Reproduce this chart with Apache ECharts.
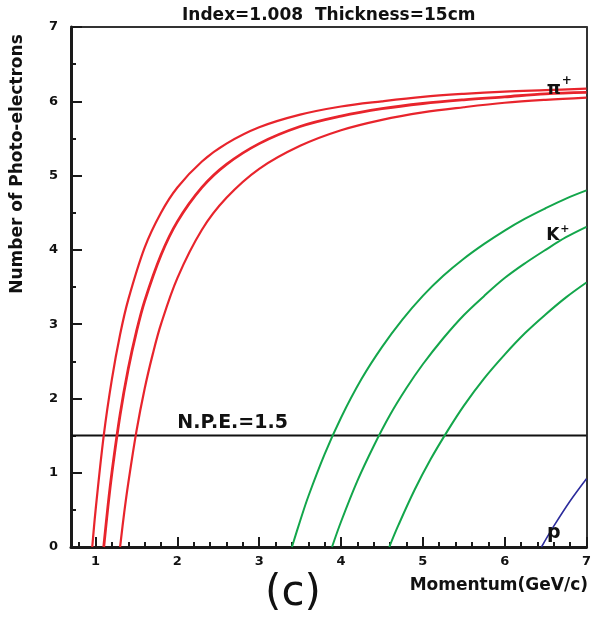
<!DOCTYPE html>
<html><head><meta charset="utf-8">
<script src="https://cdn.jsdelivr.net/npm/echarts@6/dist/echarts.min.js"></script>
<style>html,body{margin:0;padding:0;background:#fff}#c{width:594px;height:620px}</style>
</head><body><div id="c"></div>
<script>
// ---- data ----
const piAX = [0.96,1.0,1.1,1.2,1.3,1.4,1.6,1.8,2.0,2.3,2.6,3.0,3.5,4.0,4.5,5.0,5.5,6.0,6.5,7.0];
const piAY = [0,0.49,1.50,2.26,2.86,3.33,4.03,4.50,4.84,5.19,5.43,5.65,5.82,5.93,6.00,6.06,6.10,6.13,6.15,6.17];
const piBX = [1.10,1.15,1.2,1.3,1.4,1.5,1.6,1.8,2.0,2.3,2.6,3.0,3.5,4.0,4.5,5.0,5.5,6.0,6.5,7.0];
const piBY = [0,0.53,1.00,1.78,2.40,2.90,3.31,3.93,4.38,4.84,5.15,5.43,5.66,5.80,5.90,5.97,6.02,6.06,6.10,6.12];
const piCX = [1.30,1.35,1.4,1.5,1.6,1.7,1.8,2.0,2.3,2.6,3.0,3.5,4.0,4.5,5.0,5.5,6.0,6.5,7.0];
const piCY = [0,0.46,0.86,1.56,2.13,2.60,3.00,3.62,4.27,4.70,5.09,5.40,5.61,5.75,5.85,5.92,5.98,6.02,6.05];
const kAX = [3.40,3.5,3.6,3.8,4.0,4.25,4.5,4.75,5.0,5.25,5.5,5.75,6.0,6.25,6.5,6.75,7.0];
const kAY = [0,0.35,0.68,1.25,1.74,2.26,2.69,3.06,3.38,3.65,3.88,4.08,4.26,4.42,4.56,4.69,4.80];
const kBX = [3.89,4.0,4.2,4.4,4.6,4.8,5.0,5.25,5.5,5.75,6.0,6.25,6.5,6.75,7.0];
const kBY = [0,0.34,0.89,1.36,1.78,2.14,2.46,2.81,3.12,3.38,3.62,3.82,4.00,4.17,4.31];
const kCX = [4.59,4.7,4.9,5.1,5.3,5.5,5.75,6.0,6.25,6.5,6.75,7.0];
const kCY = [0,0.29,0.77,1.19,1.56,1.90,2.27,2.59,2.88,3.13,3.36,3.56];
const pX = [6.45,6.6,6.8,7.0];
const pY = [0,0.28,0.62,0.92];
const npeLevel = 1.5;
const xTicks = [1,2,3,4,5,6,7];
const xMinorTicks = [0.8,1.2,1.4,1.6,1.8,2.2,2.4,2.6,2.8,3.2,3.4,3.6,3.8,4.2,4.4,4.6,4.8,5.2,5.4,5.6,5.8,6.2,6.4,6.6,6.8];
const titleText = 'Index=1.008  Thickness=15cm';
const xName = 'Momentum(GeV/c)';
const yName = 'Number of Photo-electrons';
const npeText = 'N.P.E.=1.5';
const npeLabelAt = [2.0, 1.5];
const piLabelAt = [6.60, 6.16];
const kLabelAt = [6.59, 4.19];
const pLabelAt = [6.60, 0.17];

const FONT = 'DejaVu Sans';
const RED = '#e8242c', GREEN = '#13a64b', BLUE = '#2c2c9c';
const zip = (xs, ys) => xs.map((x, i) => [x, ys[i]]);

const chart = echarts.init(document.getElementById('c'), null, {renderer: 'canvas'});

function line(name, xs, ys, color, width) {
  return {type: 'line', name, data: zip(xs, ys), xAxisIndex: 0, yAxisIndex: 0,
    symbol: 'none', smooth: 0.35,
    lineStyle: {color, width}, silent: true, z: 3};
}

const axisColor = '#1a1a1a';
chart.setOption({
  animation: false,
  backgroundColor: '#fff',
  title: {text: titleText, left: 182, top: 7, padding: 0,
    textStyle: {fontFamily: FONT, fontWeight: 'bold', fontSize: 17, color: '#111'}},
  grid: {left: 71, right: 5, top: 27, bottom: 73, containLabel: false},
  xAxis: [
    {type: 'value', position: 'bottom', min: 0.7, max: 7,
      axisLine: {show: true, onZero: false, lineStyle: {color: axisColor, width: 3}},
      axisTick: {show: true, inside: true, length: 10, customValues: xTicks, lineStyle: {color: axisColor, width: 2}},
      axisLabel: {show: true, customValues: xTicks, margin: 8, fontFamily: FONT, fontWeight: 'bold', fontSize: 13, color: '#111'},
      splitLine: {show: false}},
    {type: 'value', position: 'bottom', min: 0.7, max: 7,
      axisLine: {show: false},
      axisTick: {show: true, inside: true, length: 5, customValues: xMinorTicks, lineStyle: {color: axisColor, width: 2}},
      axisLabel: {show: false}, splitLine: {show: false}},
    {type: 'value', position: 'top', min: 0.7, max: 7,
      axisLine: {show: true, onZero: false, lineStyle: {color: '#333', width: 2}},
      axisTick: {show: false}, axisLabel: {show: false}, splitLine: {show: false}}
  ],
  yAxis: [
    {type: 'value', position: 'left', min: 0, max: 7, interval: 1,
      axisLine: {show: true, onZero: false, lineStyle: {color: axisColor, width: 3}},
      axisTick: {show: true, inside: true, length: 11, lineStyle: {color: axisColor, width: 2}},
      minorTick: {show: true, splitNumber: 2, length: 5, lineStyle: {color: axisColor, width: 2}},
      axisLabel: {margin: 13, fontFamily: FONT, fontWeight: 'bold', fontSize: 13, color: '#111'},
      splitLine: {show: false}, minorSplitLine: {show: false}},
    {type: 'value', position: 'right', min: 0, max: 7,
      axisLine: {show: true, onZero: false, lineStyle: {color: '#333', width: 2}},
      axisTick: {show: false}, axisLabel: {show: false}, splitLine: {show: false}}
  ],
  series: [
    line('pi1', piAX, piAY, RED, 2.2),
    line('pi2', piBX, piBY, RED, 2.8),
    line('pi3', piCX, piCY, RED, 2.2),
    line('K1', kAX, kAY, GREEN, 2),
    line('K2', kBX, kBY, GREEN, 2),
    line('K3', kCX, kCY, GREEN, 2),
    line('p', pX, pY, BLUE, 1.6),
    {type: 'line', name: 'npe', data: [[0.7, npeLevel], [7, npeLevel]], symbol: 'none',
      lineStyle: {color: '#111', width: 2}, silent: true, z: 2}
  ]
});

const px = (pt) => chart.convertToPixel({xAxisIndex: 0, yAxisIndex: 0}, pt);
const npeP = px(npeLabelAt), piP = px(piLabelAt), kP = px(kLabelAt), pP = px(pLabelAt);
const txt = (x, y, text, font, align, valign, rot) => ({type: 'text', x, y, rotation: rot || 0, z: 10,
  style: {text, font, fill: '#111', textAlign: align, textVerticalAlign: valign}});
chart.setOption({graphic: [
  txt(18, 164, yName, 'bold 17px "' + FONT + '"', 'center', 'middle', Math.PI / 2),
  txt(588, 586, xName, 'bold 17px "' + FONT + '"', 'right', 'middle'),
  txt(293, 594, '(c)', '42px "' + FONT + '"', 'center', 'middle'),
  txt(npeP[0], npeP[1] - 3, npeText, 'bold 19px "' + FONT + '"', 'left', 'bottom'),
  txt(piP[0], piP[1], 'π', 'bold 18px "' + FONT + '"', 'center', 'middle'),
  txt(piP[0] + 13, piP[1] - 9, '+', 'bold 12px "' + FONT + '"', 'center', 'middle'),
  txt(kP[0], kP[1], 'K', 'bold 17px "' + FONT + '"', 'center', 'middle'),
  txt(kP[0] + 12, kP[1] - 7, '+', 'bold 11px "' + FONT + '"', 'center', 'middle'),
  txt(pP[0], pP[1] - 1, 'p', 'bold 19px "' + FONT + '"', 'center', 'middle')
]});
</script>
</body></html>
